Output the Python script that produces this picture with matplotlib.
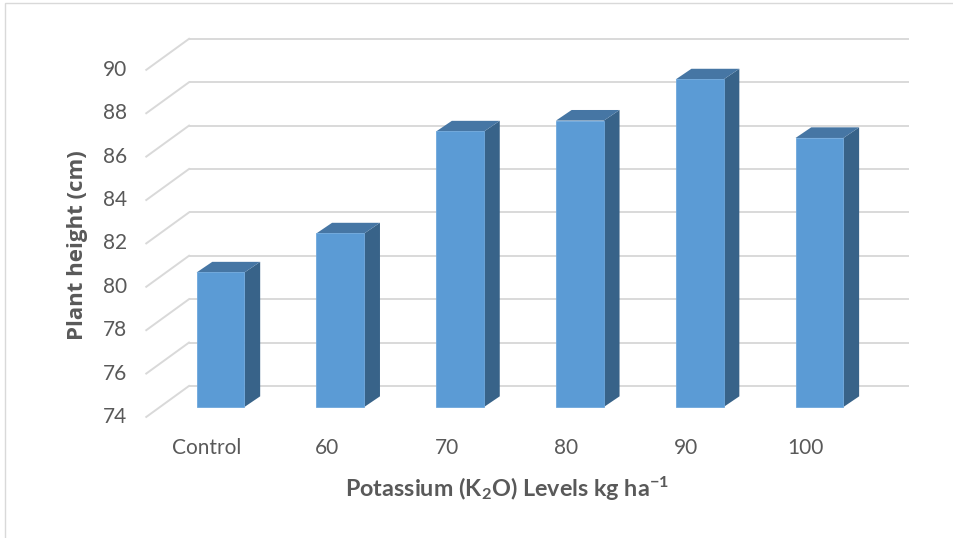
"""Plant height response to potassium levels, drawn as a 3-D style column chart."""

from __future__ import annotations

import matplotlib

matplotlib.use("Agg")

import matplotlib.pyplot as plt
from matplotlib.patches import Polygon, Rectangle

categories = ["Control", "60", "70", "80", "90", "100"]
plant_height = [80.2, 82.0, 86.7, 87.2, 89.1, 86.4]
y_ticks = [74, 76, 78, 80, 82, 84, 86, 88, 90]

FRONT_COLOR = "#5b9bd5"
SIDE_COLOR = "#386389"
TOP_COLOR = "#4676a4"
GRID_COLOR = "#d9d9d9"
TEXT_COLOR = "#595959"

BAR_WIDTH = 0.40
# depth of a column (x in category units, y in value units)
BAR_DX, BAR_DY = 0.131, 0.49
# offset from the column front plane to the floor front edge and the back wall
FRONT_DX, FRONT_DY = -0.113, -0.46
BACK_DX, BACK_DY = 0.244, 0.97
BASE = 74


def draw_walls(axis):
    """Back wall gridlines with their diagonal returns on the left wall."""
    wall_left = -0.263
    wall_right = 5.748
    for value in y_ticks:
        back_y = value + BACK_DY
        axis.plot([wall_left, wall_right], [back_y, back_y],
                  color=GRID_COLOR, linewidth=1.4, zorder=1, solid_capstyle="butt")
        axis.plot([wall_left + FRONT_DX - BACK_DX, wall_left], [value + FRONT_DY, back_y],
                  color=GRID_COLOR, linewidth=1.4, zorder=1)
        axis.text(-0.78, value + FRONT_DY, f"{value}", ha="right", va="center",
                  fontsize=15, family="Lato", color=TEXT_COLOR)


def draw_columns(axis):
    for i, value in enumerate(plant_height):
        left = i - BAR_WIDTH / 2
        right = i + BAR_WIDTH / 2
        axis.add_patch(Polygon(
            [(right, BASE), (right + BAR_DX, BASE + BAR_DY),
             (right + BAR_DX, value + BAR_DY), (right, value)],
            closed=True, facecolor=SIDE_COLOR, edgecolor="none", zorder=3))
        axis.add_patch(Polygon(
            [(left, value), (right, value),
             (right + BAR_DX, value + BAR_DY), (left + BAR_DX, value + BAR_DY)],
            closed=True, facecolor=TOP_COLOR, edgecolor="none", zorder=3))
        axis.add_patch(Rectangle((left, BASE), BAR_WIDTH, value - BASE,
                                 facecolor=FRONT_COLOR, edgecolor="#6fa8dc",
                                 linewidth=0.6, zorder=4))
        axis.text(i + FRONT_DX, 72.1, categories[i], ha="center", va="center",
                  fontsize=15, family="Lato", color=TEXT_COLOR)


def main():
    plt.rcParams["mathtext.fontset"] = "custom"
    plt.rcParams["mathtext.rm"] = "Lato:bold"
    plt.rcParams["mathtext.it"] = "Lato:bold"
    plt.rcParams["mathtext.bf"] = "Lato:bold"

    fig = plt.figure(figsize=(9.54, 5.38), dpi=100)
    axis = fig.add_axes([0, 0, 1, 1])
    axis.set_xlim(-1.841, 6.123)
    axis.set_ylim(67.96, 92.76)
    axis.axis("off")

    draw_walls(axis)
    draw_columns(axis)

    axis.text(2.39, 69.86, r"Potassium (K$_2$O) Levels kg ha$^{-1}$",
              ha="center", va="baseline", fontsize=16.8, family="Lato",
              fontweight="bold", color=TEXT_COLOR)
    fig.text(78 / 954, 1 - 245 / 538, "Plant height (cm)", rotation=90,
             ha="center", va="center", fontsize=16, family="Open Sans",
             fontweight="bold", color=TEXT_COLOR)

    fig.patches.append(Rectangle((5 / 954, -0.01), 1.0, 1 - 3 / 538 + 0.01,
                                 transform=fig.transFigure, fill=False,
                                 edgecolor=GRID_COLOR, linewidth=1.0))

    fig.savefig("out.png", dpi=100)
    plt.close(fig)


if __name__ == "__main__":
    main()
